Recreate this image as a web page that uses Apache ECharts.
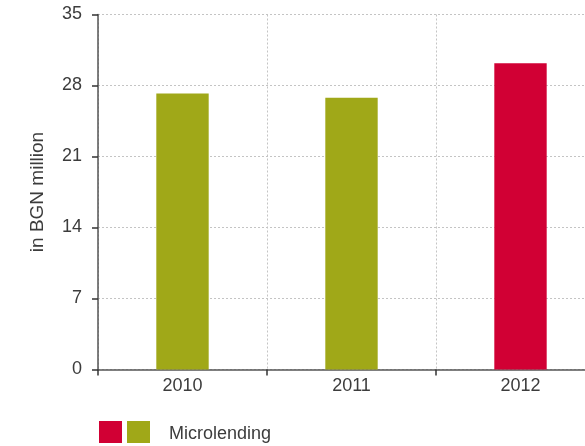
<!DOCTYPE html>
<html>
<head>
<meta charset="utf-8">
<script src="https://cdn.jsdelivr.net/npm/echarts@6/dist/echarts.min.js"></script>
<style>
  html, body { margin: 0; padding: 0; background: #fff; }
  #chart { width: 585px; height: 446px; }
</style>
</head>
<body>
<div id="chart"></div>
<script>
// Microlending portfolio, in BGN million
const years = ['2010', '2011', '2012'];
const values = [27.2, 26.8, 30.2];
const barColors = ['#a0a818', '#a0a818', '#d10034'];
const yTicks = { min: 0, max: 35, interval: 7 };
const legendLabel = 'Microlending';
const yAxisTitle = 'in BGN million';

const font = 'Liberation Sans, Arial, sans-serif';
const textColor = '#3c3c3c';
const chart = echarts.init(document.getElementById('chart'), null, { renderer: 'canvas' });

chart.setOption({
  animation: false,
  backgroundColor: '#fff',
  // the plot area runs past the right edge of the canvas, so the last column is cut off
  grid: { left: 98, width: 507, top: 14.5, height: 355, containLabel: false, outerBoundsMode: 'none' },
  xAxis: {
    type: 'category',
    data: years,
    boundaryGap: true,
    axisLine: { lineStyle: { color: '#555', width: 1.5 } },
    axisTick: { show: true, length: 6, alignWithLabel: false, lineStyle: { color: '#333', width: 1.5 } },
    axisLabel: { color: textColor, fontSize: 18, fontFamily: font, margin: 8 },
    splitLine: { show: true, lineStyle: { color: '#c4c4c4', type: [2, 2], width: 1 } }
  },
  yAxis: {
    type: 'value',
    min: yTicks.min,
    max: yTicks.max,
    interval: yTicks.interval,
    name: yAxisTitle,
    nameLocation: 'middle',
    nameGap: 51,
    nameTextStyle: { color: textColor, fontSize: 19, fontFamily: font },
    axisLine: { show: true, lineStyle: { color: '#555', width: 1.5 } },
    axisTick: { show: true, inside: false, length: 6, lineStyle: { color: '#333', width: 1.5 } },
    axisLabel: { color: textColor, fontSize: 18, fontFamily: font, margin: 16 },
    splitLine: { show: true, lineStyle: { color: '#c4c4c4', type: [2, 2], width: 1 } }
  },
  series: [{
    name: legendLabel,
    type: 'bar',
    barWidth: '31%',
    data: values.map((v, i) => ({ value: v, itemStyle: { color: barColors[i] } }))
  }],
  graphic: [
    { type: 'rect', left: 99, top: 421, shape: { width: 23, height: 22 }, style: { fill: barColors[2] } },
    { type: 'rect', left: 127, top: 421, shape: { width: 23, height: 22 }, style: { fill: barColors[0] } },
    { type: 'text', left: 169, top: 425, style: { text: legendLabel, fill: textColor, font: '18px ' + font } }
  ]
});
</script>
</body>
</html>
